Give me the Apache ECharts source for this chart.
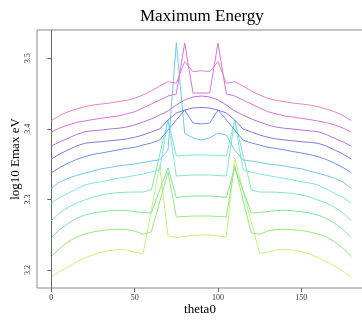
<!DOCTYPE html>
<html><head><meta charset="utf-8">
<script src="https://cdn.jsdelivr.net/npm/echarts@6/dist/echarts.min.js"></script>
<style>html,body{margin:0;padding:0;background:#fff}#c{width:362px;height:321px}</style>
</head><body><div id="c"></div>
<script>
const theta = [0,5,10,15,20,25,30,35,40,45,50,55,60,65,70,75,80,85,90,95,100,105,110,115,120,125,130,135,140,145,150,155,160,165,170,175,180];
const xTicks = [0,50,100,150];
const yTicks = [3.2,3.3,3.4,3.5];
const colors = ['#c6f27c','#97e77a','#84e39a','#82e6c2','#7fe6e2','#74c4ef','#6f8ee6','#8a73e0','#b573de','#d774d6','#e882c4'];

const L0 = [3.1905,3.1979,3.2043,3.2113,3.2170,3.2213,3.2251,3.2276,3.2290,3.2284,3.2255,3.2227,3.2850,3.3488,3.2482,3.2461,3.2475,3.2489,3.2496,3.2496,3.2482,3.2468,3.3587,3.3134,3.2680,3.2234,3.2255,3.2284,3.2290,3.2284,3.2262,3.2227,3.2177,3.2121,3.2057,3.1986,3.1905];
const L1 = [3.2191,3.2305,3.2397,3.2468,3.2510,3.2539,3.2560,3.2571,3.2577,3.2574,3.2553,3.2506,3.2539,3.2964,3.3389,3.2751,3.2758,3.2765,3.2765,3.2765,3.2758,3.2751,3.3488,3.2992,3.2524,3.2506,3.2553,3.2574,3.2577,3.2571,3.2560,3.2539,3.2510,3.2468,3.2397,3.2305,3.2191];
const L2 = [3.2458,3.2574,3.2662,3.2730,3.2779,3.2808,3.2826,3.2839,3.2846,3.2843,3.2829,3.2815,3.2808,3.3134,3.3446,3.3028,3.3042,3.3049,3.3049,3.3049,3.3042,3.3028,3.3446,3.3134,3.2808,3.2815,3.2829,3.2843,3.2846,3.2839,3.2826,3.2808,3.2779,3.2730,3.2662,3.2574,3.2458];
const L3 = [3.2699,3.2808,3.2888,3.2949,3.2992,3.3034,3.3063,3.3084,3.3095,3.3102,3.3105,3.3105,3.3134,3.3630,3.4126,3.3332,3.3339,3.3346,3.3346,3.3346,3.3339,3.3332,3.4126,3.3630,3.3134,3.3105,3.3105,3.3102,3.3095,3.3084,3.3063,3.3034,3.2992,3.2949,3.2888,3.2808,3.2699];
const L4 = [3.2945,3.3028,3.3087,3.3148,3.3205,3.3233,3.3251,3.3275,3.3299,3.3318,3.3339,3.3360,3.3389,3.3417,3.4126,3.3616,3.3623,3.3630,3.3630,3.3630,3.3623,3.3616,3.4126,3.3417,3.3389,3.3360,3.3339,3.3318,3.3299,3.3275,3.3251,3.3233,3.3205,3.3148,3.3087,3.3028,3.2945];
const L5 = [3.3158,3.3247,3.3299,3.3339,3.3370,3.3403,3.3435,3.3452,3.3474,3.3488,3.3502,3.3523,3.3545,3.3559,3.3701,3.5221,3.3940,3.3871,3.3842,3.3871,3.3940,3.3913,3.3701,3.3559,3.3545,3.3523,3.3502,3.3488,3.3474,3.3452,3.3435,3.3403,3.3370,3.3339,3.3299,3.3247,3.3158];
const L6 = [3.3379,3.3452,3.3512,3.3566,3.3606,3.3637,3.3658,3.3679,3.3701,3.3722,3.3739,3.3771,3.3800,3.3842,3.3984,3.4126,3.4267,3.4083,3.4069,3.4083,3.4267,3.4126,3.3984,3.3842,3.3800,3.3771,3.3739,3.3722,3.3701,3.3679,3.3658,3.3637,3.3606,3.3566,3.3512,3.3452,3.3379];
const L7 = [3.3573,3.3644,3.3701,3.3757,3.3795,3.3810,3.3818,3.3831,3.3842,3.3856,3.3880,3.3913,3.3956,3.3998,3.4126,3.4225,3.4267,3.4296,3.4303,3.4296,3.4267,3.4225,3.4126,3.3998,3.3956,3.3913,3.3880,3.3856,3.3842,3.3831,3.3818,3.3810,3.3795,3.3757,3.3701,3.3644,3.3573];
const L8 = [3.3757,3.3814,3.3866,3.3920,3.3960,3.3973,3.3984,3.3998,3.4008,3.4026,3.4055,3.4097,3.4140,3.4196,3.4253,3.4338,3.4409,3.4452,3.4466,3.4452,3.4409,3.4338,3.4253,3.4196,3.4140,3.4097,3.4055,3.4026,3.4008,3.3998,3.3984,3.3973,3.3960,3.3920,3.3866,3.3814,3.3757];
const L9 = [3.3953,3.4012,3.4055,3.4090,3.4111,3.4132,3.4150,3.4168,3.4182,3.4211,3.4243,3.4296,3.4352,3.4409,3.4466,3.4494,3.5217,3.4508,3.4508,3.4508,3.5217,3.4494,3.4466,3.4409,3.4352,3.4296,3.4243,3.4211,3.4182,3.4168,3.4150,3.4132,3.4111,3.4090,3.4055,3.4012,3.3953];
const L10 = [3.4118,3.4189,3.4243,3.4281,3.4314,3.4338,3.4352,3.4366,3.4385,3.4402,3.4433,3.4480,3.4537,3.4607,3.4668,3.4646,3.4952,3.4810,3.4824,3.4810,3.4952,3.4646,3.4668,3.4607,3.4537,3.4480,3.4433,3.4402,3.4385,3.4366,3.4352,3.4338,3.4314,3.4281,3.4243,3.4189,3.4118];
const lines = [L0,L1,L2,L3,L4,L5,L6,L7,L8,L9,L10];

const serif = '"Liberation Serif","DejaVu Serif",serif';
const chart = echarts.init(document.getElementById('c'), null, {renderer:'canvas'});
const series = lines.map((vals,i)=>({
  type:'line', data: theta.map((t,k)=>[t, vals[k]]), showSymbol:false, symbol:'none',
  lineStyle:{color:colors[i], width:1}, silent:true, z:2+i
}));
series.push({type:'line', data:[], markLine:{silent:true, symbol:'none', label:{show:false},
  lineStyle:{color:'#666', width:1, type:'solid'}, data:[{xAxis:0}]}});
chart.setOption({
  animation:false,
  title:{text:'Maximum Energy', left:135, top:3, textStyle:{fontFamily:serif, fontSize:17, fontWeight:'normal', color:'#000'}},
  grid:{left:37, top:30, width:326, height:258, containLabel:false, outerBoundsMode:'none', show:true, borderColor:'#888', borderWidth:1, backgroundColor:'transparent'},
  xAxis:{type:'value', min:-8.6, max:187, name:'theta0', nameLocation:'middle', nameGap:15, nameMoveOverlap:false,
    nameTextStyle:{fontFamily:serif, fontSize:13, color:'#000'},
    axisLine:{show:false}, splitLine:{show:false},
    axisTick:{show:true, length:4, lineStyle:{color:'#666'}, customValues:xTicks},
    axisLabel:{fontFamily:serif, fontSize:8, color:'#333', margin:6, customValues:xTicks}},
  yAxis:{type:'value', min:3.1745, max:3.5401, name:'log10 Emax eV', nameLocation:'middle', nameGap:15, nameRotate:90, nameMoveOverlap:false,
    nameTextStyle:{fontFamily:serif, fontSize:13, color:'#000'},
    axisLine:{show:false}, splitLine:{show:false},
    axisTick:{show:true, length:4, lineStyle:{color:'#666'}, customValues:yTicks},
    axisLabel:{fontFamily:serif, fontSize:8, color:'#333', margin:5, rotate:90, customValues:yTicks, formatter:v=>v.toFixed(1)}},
  series:series
});
</script></body></html>
